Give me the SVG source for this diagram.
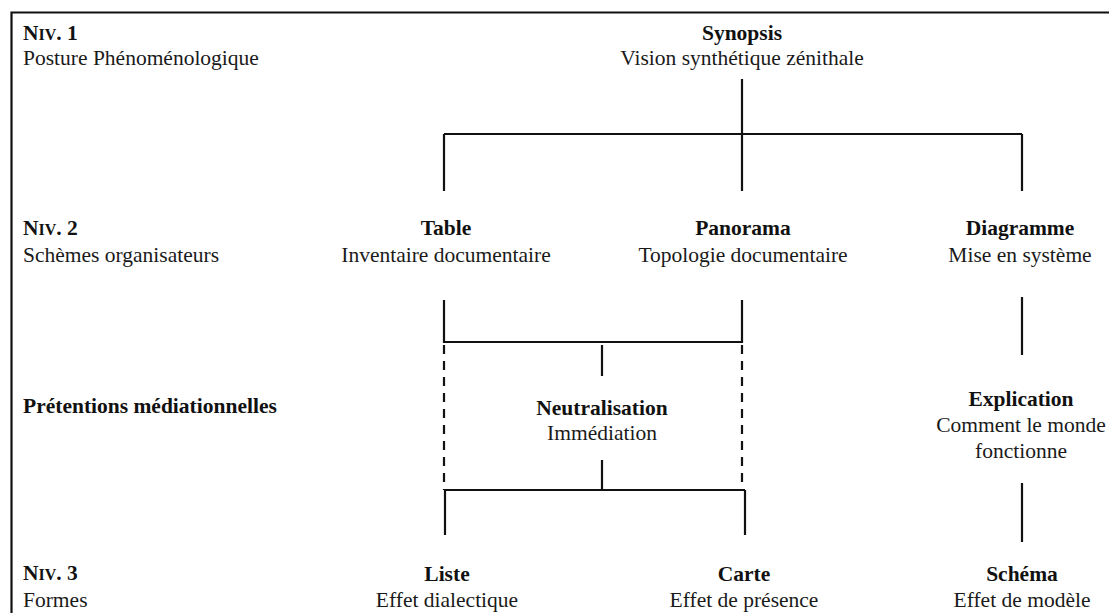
<svg xmlns="http://www.w3.org/2000/svg" width="1109" height="613" viewBox="0 0 1109 613">
<style>
text{font-family:"Liberation Serif","Times New Roman",serif;font-size:21.5px;fill:#1a1a1a}
.b{font-weight:bold;fill:#111}
.c{text-anchor:middle}
.sc{font-size:16px}
.ln{stroke:#111;stroke-width:2.2;fill:none}
.d{stroke:#111;stroke-width:2.2;fill:none;stroke-dasharray:9,7}
</style>
<rect width="1109" height="613" fill="#fff"/>
<path d="M11.5,625 V12.5 H1120" stroke="#111" stroke-width="2.2" fill="none"/>
<g id="levels">
<text x="23" y="40" class="b">N<tspan class="sc">IV</tspan>. 1</text>
<text x="23" y="65">Posture Phénoménologique</text>
<text x="23" y="235" class="b">N<tspan class="sc">IV</tspan>. 2</text>
<text x="23" y="262">Schèmes organisateurs</text>
<text x="23" y="413" class="b">Prétentions médiationnelles</text>
<text x="23" y="580" class="b">N<tspan class="sc">IV</tspan>. 3</text>
<text x="23" y="607">Formes</text>
</g>
<g id="synopsis"><text x="742" y="40" class="b c">Synopsis</text><text x="742" y="65" class="c">Vision synthétique zénithale</text></g>
<g id="table"><text x="446" y="235" class="b c">Table</text><text x="446" y="262" class="c">Inventaire documentaire</text></g>
<g id="panorama"><text x="743" y="235" class="b c">Panorama</text><text x="743" y="262" class="c">Topologie documentaire</text></g>
<g id="diagramme"><text x="1020" y="235" class="b c">Diagramme</text><text x="1020" y="262" class="c">Mise en système</text></g>
<g id="neutralisation"><text x="602" y="415" class="b c">Neutralisation</text><text x="602" y="440" class="c">Immédiation</text></g>
<g id="explication"><text x="1021" y="406" class="b c">Explication</text><text x="1021" y="432" class="c">Comment le monde</text><text x="1021" y="458" class="c">fonctionne</text></g>
<g id="liste"><text x="447" y="581" class="b c">Liste</text><text x="447" y="607" class="c">Effet dialectique</text></g>
<g id="carte"><text x="744" y="581" class="b c">Carte</text><text x="744" y="607" class="c">Effet de présence</text></g>
<g id="schema"><text x="1022" y="581" class="b c">Schéma</text><text x="1022" y="607" class="c">Effet de modèle</text></g>
<g id="connectors">
<path class="ln" d="M742,79 V191 M444,134 H1022 M444,134 V191 M1022,134 V191"/>
<path class="ln" d="M444,300 V342 H742 V300 M602,345 V376"/>
<path class="d" d="M444,345 V490 M742,345 V490"/>
<path class="ln" d="M602,460 V490 M444,490 H745 M445,490 V535 M745,490 V535"/>
<path class="ln" d="M1022,297 V355 M1022,483 V542"/>
</g>
</svg>
